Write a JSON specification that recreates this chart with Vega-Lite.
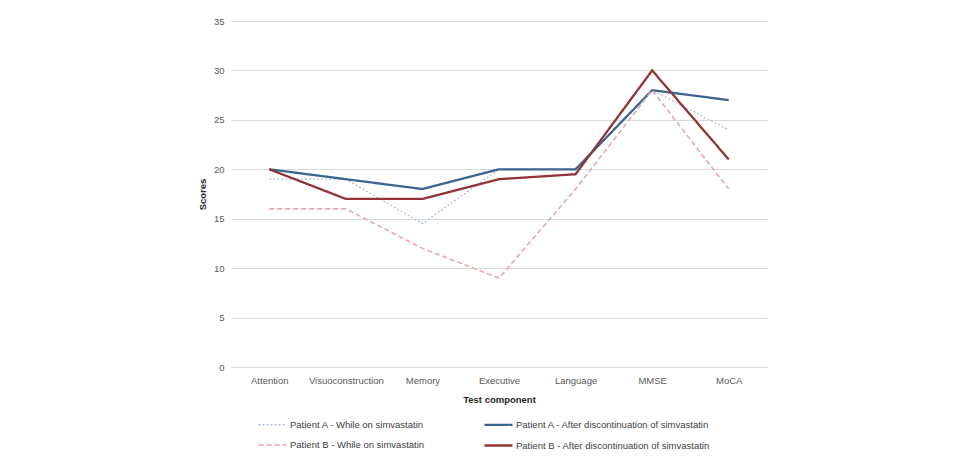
{
  "$schema": "https://vega.github.io/schema/vega-lite/v6.json",
  "autosize": {"type": "none"},
  "width": 536,
  "height": 346,
  "padding": {"left": 231, "top": 21, "right": 202, "bottom": 89},
  "background": "white",
  "config": {
    "font": "Liberation Sans",
    "view": {"stroke": null},
    "axis": {"labelColor": "#595959", "titleColor": "#262626", "labelFontSize": 9.5, "titleFontSize": 9.5, "titleFontWeight": "bold"}
  },
  "data": {
    "values": [
      {"component": "Attention", "series": "Patient A - While on simvastatin", "score": 19},
      {"component": "Visuoconstruction", "series": "Patient A - While on simvastatin", "score": 19},
      {"component": "Memory", "series": "Patient A - While on simvastatin", "score": 14.5},
      {"component": "Executive", "series": "Patient A - While on simvastatin", "score": 20},
      {"component": "Language", "series": "Patient A - While on simvastatin", "score": 20},
      {"component": "MMSE", "series": "Patient A - While on simvastatin", "score": 28},
      {"component": "MoCA", "series": "Patient A - While on simvastatin", "score": 24},
      {"component": "Attention", "series": "Patient A - After discontinuation of simvastatin", "score": 20},
      {"component": "Visuoconstruction", "series": "Patient A - After discontinuation of simvastatin", "score": 19},
      {"component": "Memory", "series": "Patient A - After discontinuation of simvastatin", "score": 18},
      {"component": "Executive", "series": "Patient A - After discontinuation of simvastatin", "score": 20},
      {"component": "Language", "series": "Patient A - After discontinuation of simvastatin", "score": 20},
      {"component": "MMSE", "series": "Patient A - After discontinuation of simvastatin", "score": 28},
      {"component": "MoCA", "series": "Patient A - After discontinuation of simvastatin", "score": 27},
      {"component": "Attention", "series": "Patient B - While on simvastatin", "score": 16},
      {"component": "Visuoconstruction", "series": "Patient B - While on simvastatin", "score": 16},
      {"component": "Memory", "series": "Patient B - While on simvastatin", "score": 12},
      {"component": "Executive", "series": "Patient B - While on simvastatin", "score": 9},
      {"component": "Language", "series": "Patient B - While on simvastatin", "score": 18},
      {"component": "MMSE", "series": "Patient B - While on simvastatin", "score": 28},
      {"component": "MoCA", "series": "Patient B - While on simvastatin", "score": 18},
      {"component": "Attention", "series": "Patient B - After discontinuation of simvastatin", "score": 20},
      {"component": "Visuoconstruction", "series": "Patient B - After discontinuation of simvastatin", "score": 17},
      {"component": "Memory", "series": "Patient B - After discontinuation of simvastatin", "score": 17},
      {"component": "Executive", "series": "Patient B - After discontinuation of simvastatin", "score": 19},
      {"component": "Language", "series": "Patient B - After discontinuation of simvastatin", "score": 19.5},
      {"component": "MMSE", "series": "Patient B - After discontinuation of simvastatin", "score": 30},
      {"component": "MoCA", "series": "Patient B - After discontinuation of simvastatin", "score": 21}
    ]
  },
  "mark": {"type": "line", "strokeCap": "butt"},
  "encoding": {
    "x": {
      "field": "component",
      "type": "nominal",
      "sort": null,
      "scale": {"type": "point", "padding": 0.5},
      "axis": {
        "title": "Test component",
        "labelAngle": 0,
        "labelPadding": 8,
        "titlePadding": 10,
        "domainColor": "#d9d9d9",
        "ticks": false
      }
    },
    "y": {
      "field": "score",
      "type": "quantitative",
      "scale": {"domain": [0, 35], "nice": false},
      "axis": {
        "title": "Scores",
        "values": [0, 5, 10, 15, 20, 25, 30, 35],
        "domain": false,
        "ticks": false,
        "gridColor": "#d9d9d9",
        "labelPadding": 7,
        "titlePadding": 6
      }
    },
    "color": {
      "field": "series",
      "type": "nominal",
      "scale": {
        "domain": [
          "Patient A - While on simvastatin",
          "Patient A - After discontinuation of simvastatin",
          "Patient B - While on simvastatin",
          "Patient B - After discontinuation of simvastatin"
        ],
        "range": ["#aebfd8", "#3a6592", "#e9a7ae", "#913433"]
      },
      "legend": {
        "title": null,
        "orient": "none",
        "direction": "horizontal",
        "legendX": 26,
        "legendY": 388,
        "columns": 2,
        "columnPadding": 54,
        "rowPadding": -11,
        "symbolType": "stroke",
        "symbolSize": 784,
        "labelFontSize": 9.5,
        "labelLimit": 0,
        "labelColor": "#404040",
        "labelOffset": 2
      }
    },
    "strokeDash": {
      "field": "series",
      "type": "nominal",
      "scale": {
        "domain": [
          "Patient A - While on simvastatin",
          "Patient A - After discontinuation of simvastatin",
          "Patient B - While on simvastatin",
          "Patient B - After discontinuation of simvastatin"
        ],
        "range": [[2, 2], [1, 0], [5, 3], [1, 0]]
      }
    },
    "strokeWidth": {
      "field": "series",
      "type": "nominal",
      "scale": {
        "type": "ordinal",
        "domain": [
          "Patient A - While on simvastatin",
          "Patient A - After discontinuation of simvastatin",
          "Patient B - While on simvastatin",
          "Patient B - After discontinuation of simvastatin"
        ],
        "range": [1.3, 2.3, 1.6, 2.3]
      }
    }
  }
}
